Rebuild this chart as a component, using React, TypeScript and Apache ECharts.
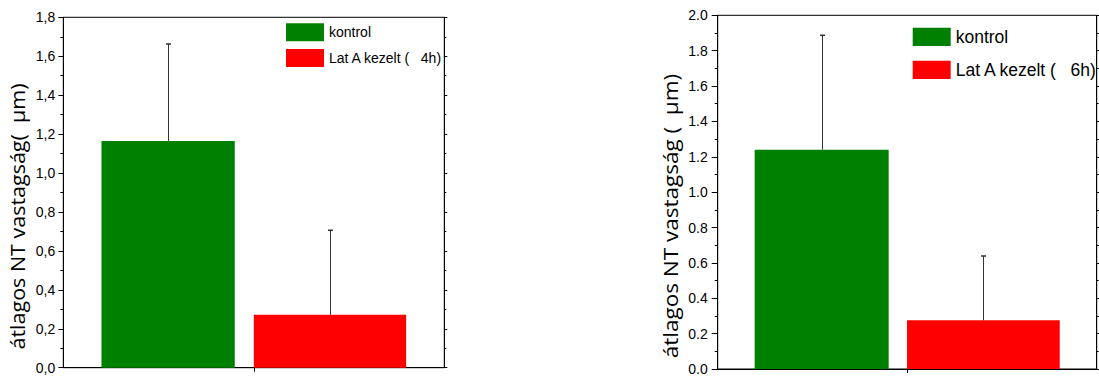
import React, { useEffect, useRef } from "react";
import * as echarts from "echarts";

// ---- data ----
const categories = [""];
const names4h = ["kontrol", "Lat A kezelt (   4h)"];
const names6h = ["kontrol", "Lat A kezelt (   6h)"];
const means4h = [1.165, 0.272];
const errors4h = [0.498, 0.434];
const means6h = [1.24, 0.275];
const errors6h = [0.647, 0.364];
const axis4h = { min: 0, max: 1.8, interval: 0.2 };
const axis6h = { min: 0, max: 2.0, interval: 0.2 };
const yName4h = "átlagos NT vastagság(  μm)";
const yName6h = "átlagos NT vastagság (  μm)";

const GREEN = "#008000";
const RED = "#ff0000";
const ERR = "#333333";

function offsets(wA: number, wB: number, gap: number) {
  const sum = wA * (1 + gap) + wB;
  return [-sum / 2 + wA / 2, -sum / 2 + wA * (1 + gap) + wB / 2];
}

function buildChart(
  idx: number,
  names: string[],
  means: number[],
  errs: number[],
  wA: number,
  wB: number,
  gap: number,
  comma: boolean,
  tickLen: number,
  minorLen: number,
  labelMargin: number
) {
  const offs = offsets(wA, wB, gap);
  const fmt = (v: number) => (comma ? v.toFixed(1).replace(".", ",") : v.toFixed(1));
  const series: any[] = [
    {
      type: "bar",
      name: names[0],
      xAxisIndex: idx,
      yAxisIndex: idx * 2,
      data: [means[0]],
      barWidth: wA,
      barGap: gap * 100 + "%",
      itemStyle: { color: GREEN },
      z: 2,
    },
    {
      type: "bar",
      name: names[1],
      xAxisIndex: idx,
      yAxisIndex: idx * 2,
      data: [means[1]],
      barWidth: wB,
      barGap: gap * 100 + "%",
      itemStyle: { color: RED },
      z: 2,
    },
    {
      type: "custom",
      xAxisIndex: idx,
      yAxisIndex: idx * 2,
      z: 3,
      silent: true,
      data: means.map((m, i) => [0, m, m + errs[i]]),
      renderItem: (params: any, api: any) => {
        const off = offs[params.dataIndex];
        const p0 = api.coord([api.value(0), api.value(1)]);
        const p1 = api.coord([api.value(0), api.value(2)]);
        const x = Math.round(p0[0] + off) + 0.5;
        return {
          type: "group",
          children: [
            {
              type: "line",
              shape: { x1: x, y1: p0[1], x2: x, y2: p1[1] },
              style: { stroke: ERR, lineWidth: 1 },
            },
            {
              type: "line",
              shape: { x1: x - 2.5, y1: p1[1], x2: x + 2.5, y2: p1[1] },
              style: { stroke: ERR, lineWidth: 1.5 },
            },
          ],
        };
      },
    },
  ];
  const yLeft = (ax: any) => ({
    type: "value",
    gridIndex: idx,
    position: "left",
    min: ax.min,
    max: ax.max,
    interval: ax.interval,
    splitLine: { show: false },
    axisLine: { show: true, lineStyle: { color: "#000", width: 1 } },
    axisTick: { show: true, inside: false, length: tickLen, lineStyle: { color: "#000" } },
    minorTick: { show: true, splitNumber: 2, length: minorLen, lineStyle: { color: "#000" } },
    axisLabel: {
      show: true,
      margin: labelMargin,
      formatter: fmt,
      color: "#000",
      fontFamily: "Liberation Sans, Arial, sans-serif",
      fontSize: 14,
    },
  });
  const yRight = (ax: any) => ({
    type: "value",
    gridIndex: idx,
    position: "right",
    min: ax.min,
    max: ax.max,
    interval: ax.interval,
    splitLine: { show: false },
    axisLine: { show: true, lineStyle: { color: "#000", width: 1 } },
    axisTick: { show: true, inside: false, length: 3, lineStyle: { color: "#000" } },
    minorTick: { show: true, splitNumber: 2, length: 2, lineStyle: { color: "#000" } },
    axisLabel: { show: false },
  });
  return { series, yLeft, yRight };
}

export default function App() {
  const ref = useRef<HTMLDivElement>(null);
  useEffect(() => {
    if (!ref.current) return;
    const chart = echarts.init(ref.current, null, { renderer: "svg" });
    const c1 = buildChart(0, names4h, means4h, errors4h, 133.3, 152.3, 0.143, true, 5, 3, 8);
    const c2 = buildChart(1, names6h, means6h, errors6h, 134, 152.7, 0.137, false, 6, 3, 10);
    const xAxis = (gi: number) => ({
      type: "category",
      gridIndex: gi,
      data: categories,
      position: "bottom",
      axisLine: { show: true, lineStyle: { color: "#000", width: 1 } },
      axisTick: { show: true, alignWithLabel: true, inside: false, length: 4, lineStyle: { color: "#000" } },
      axisLabel: { show: false },
      splitLine: { show: false },
    });
    const option: any = {
      animation: false,
      backgroundColor: "#fff",
      grid: [
        { left: 63.3, top: 17.3, width: 381, height: 350.4, show: true, borderColor: "#000", borderWidth: 1, containLabel: false },
        { left: 717.7, top: 15.3, width: 379, height: 353.7, show: true, borderColor: "#000", borderWidth: 1, containLabel: false },
      ],
      xAxis: [xAxis(0), xAxis(1)],
      yAxis: [c1.yLeft(axis4h), c1.yRight(axis4h), c2.yLeft(axis6h), c2.yRight(axis6h)],
      legend: [
        {
          orient: "vertical",
          left: 286,
          top: 23.3,
          padding: 0,
          itemWidth: 38,
          itemHeight: 18,
          itemGap: 7.6,
          icon: "rect",
          selectedMode: false,
          data: names4h,
          textStyle: { fontFamily: "Liberation Sans, Arial, sans-serif", fontSize: 14, color: "#000", lineHeight: 18 },
        },
        {
          orient: "vertical",
          left: 912.7,
          top: 27.7,
          padding: 0,
          itemWidth: 38,
          itemHeight: 18.3,
          itemGap: 14.7,
          icon: "rect",
          selectedMode: false,
          data: names6h,
          textStyle: { fontFamily: "Liberation Sans, Arial, sans-serif", fontSize: 17.5, color: "#000", lineHeight: 18.3 },
        },
      ],
      graphic: [
        {
          type: "text",
          x: 17.3,
          y: 216.5,
          rotation: Math.PI / 2,
          scaleY: 0.9,
          style: {
            text: yName4h,
            fontFamily: "Open Sans, sans-serif",
            fontSize: 21.5,
            fill: "#000",
            align: "center",
            verticalAlign: "middle",
          },
        },
        {
          type: "text",
          x: 670.5,
          y: 216,
          rotation: Math.PI / 2,
          scaleY: 0.85,
          style: {
            text: yName6h,
            fontFamily: "Open Sans, sans-serif",
            fontSize: 22.5,
            fill: "#000",
            align: "center",
            verticalAlign: "middle",
          },
        },
      ],
      series: [...c1.series, ...c2.series],
    };
    chart.setOption(option);
    return () => chart.dispose();
  }, []);
  return (
    <div
      ref={ref}
      style={{ position: "absolute", left: 0, top: 0, width: 1099, height: 376, background: "#fff" }}
    />
  );
}
